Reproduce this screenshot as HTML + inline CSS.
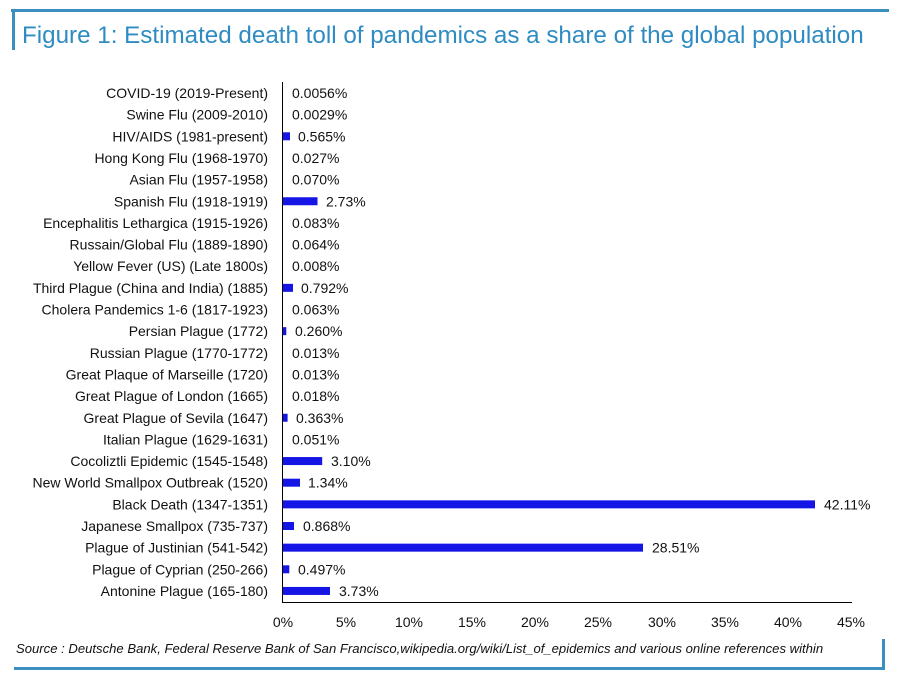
<!DOCTYPE html>
<html><head><meta charset="utf-8"><style>
body{margin:0;background:#fff;}
svg{display:block;font-family:"Liberation Sans",sans-serif;}
</style></head><body>
<svg width="901" height="681" viewBox="0 0 901 681" xmlns="http://www.w3.org/2000/svg">
<rect width="901" height="681" fill="#fff"/>
<line x1="11" y1="10.5" x2="889" y2="10.5" stroke="#3a8fc0" stroke-width="3"/>
<line x1="13.5" y1="9" x2="13.5" y2="50" stroke="#3a8fc0" stroke-width="3"/>
<text x="22" y="43" font-size="24.2" fill="#2f8cc2">Figure 1: Estimated death toll of pandemics as a share of the global population</text>
<line x1="14" y1="668.5" x2="885" y2="668.5" stroke="#3a8fc0" stroke-width="3"/>
<line x1="883.5" y1="639" x2="883.5" y2="670" stroke="#3a8fc0" stroke-width="3"/>
<text x="16" y="653" font-size="13.1" font-style="italic" fill="#111">Source : Deutsche Bank, Federal Reserve Bank of San Francisco,wikipedia.org/wiki/List_of_epidemics and various online references within</text>
<line x1="282.5" y1="82" x2="282.5" y2="603" stroke="#000" stroke-width="1"/>
<line x1="282" y1="602.5" x2="852" y2="602.5" stroke="#000" stroke-width="1"/>
<g font-size="14" fill="#111" text-anchor="middle">
<text x="283" y="627">0%</text><text x="346" y="627">5%</text><text x="409" y="627">10%</text><text x="472" y="627">15%</text><text x="535" y="627">20%</text><text x="598" y="627">25%</text><text x="662" y="627">30%</text><text x="725" y="627">35%</text><text x="788" y="627">40%</text><text x="851" y="627">45%</text>
</g>
<g font-size="14" fill="#111">
<text x="268" y="98" text-anchor="end">COVID-19 (2019-Present)</text><text x="292" y="98">0.0056%</text>
<text x="268" y="119.65" text-anchor="end">Swine Flu (2009-2010)</text><text x="292" y="119.65">0.0029%</text>
<rect x="283" y="132.3" width="7" height="8" fill="#1515e6"/><text x="268" y="141.3" text-anchor="end">HIV/AIDS (1981-present)</text><text x="298" y="141.3">0.565%</text>
<text x="268" y="162.95" text-anchor="end">Hong Kong Flu (1968-1970)</text><text x="292" y="162.95">0.027%</text>
<text x="268" y="184.6" text-anchor="end">Asian Flu (1957-1958)</text><text x="292" y="184.6">0.070%</text>
<rect x="283" y="197.25" width="34.5" height="8" fill="#1515e6"/><text x="268" y="206.25" text-anchor="end">Spanish Flu (1918-1919)</text><text x="326" y="206.25">2.73%</text>
<text x="268" y="227.9" text-anchor="end">Encephalitis Lethargica  (1915-1926)</text><text x="292" y="227.9">0.083%</text>
<text x="268" y="249.55" text-anchor="end">Russain/Global Flu  (1889-1890)</text><text x="292" y="249.55">0.064%</text>
<text x="268" y="271.2" text-anchor="end">Yellow Fever (US) (Late 1800s)</text><text x="292" y="271.2">0.008%</text>
<rect x="283" y="283.85" width="10" height="8" fill="#1515e6"/><text x="268" y="292.85" text-anchor="end">Third Plague (China and India) (1885)</text><text x="301" y="292.85">0.792%</text>
<text x="268" y="314.5" text-anchor="end">Cholera Pandemics 1-6 (1817-1923)</text><text x="292" y="314.5">0.063%</text>
<rect x="283" y="327.15" width="3.3" height="8" fill="#1515e6"/><text x="268" y="336.15" text-anchor="end">Persian Plague (1772)</text><text x="295" y="336.15">0.260%</text>
<text x="268" y="357.8" text-anchor="end">Russian Plague (1770-1772)</text><text x="292" y="357.8">0.013%</text>
<text x="268" y="379.45" text-anchor="end">Great Plaque of Marseille (1720)</text><text x="292" y="379.45">0.013%</text>
<text x="268" y="401.1" text-anchor="end">Great Plague of London (1665)</text><text x="292" y="401.1">0.018%</text>
<rect x="283" y="413.75" width="4.6" height="8" fill="#1515e6"/><text x="268" y="422.75" text-anchor="end">Great Plague of Sevila (1647)</text><text x="296" y="422.75">0.363%</text>
<text x="268" y="444.4" text-anchor="end">Italian Plague (1629-1631)</text><text x="292" y="444.4">0.051%</text>
<rect x="283" y="457.05" width="39.2" height="8" fill="#1515e6"/><text x="268" y="466.05" text-anchor="end">Cocoliztli Epidemic (1545-1548)</text><text x="331" y="466.05">3.10%</text>
<rect x="283" y="478.7" width="17" height="8" fill="#1515e6"/><text x="268" y="487.7" text-anchor="end">New World Smallpox Outbreak (1520)</text><text x="308" y="487.7">1.34%</text>
<rect x="283" y="500.35" width="532" height="8" fill="#1515e6"/><text x="268" y="509.35" text-anchor="end">Black Death (1347-1351)</text><text x="824" y="509.35">42.11%</text>
<rect x="283" y="522" width="11" height="8" fill="#1515e6"/><text x="268" y="531" text-anchor="end">Japanese Smallpox (735-737)</text><text x="303" y="531">0.868%</text>
<rect x="283" y="543.65" width="360" height="8" fill="#1515e6"/><text x="268" y="552.65" text-anchor="end">Plague of Justinian (541-542)</text><text x="652" y="552.65">28.51%</text>
<rect x="283" y="565.3" width="6.3" height="8" fill="#1515e6"/><text x="268" y="574.3" text-anchor="end">Plague of Cyprian (250-266)</text><text x="298" y="574.3">0.497%</text>
<rect x="283" y="586.95" width="47" height="8" fill="#1515e6"/><text x="268" y="595.95" text-anchor="end">Antonine Plague (165-180)</text><text x="339" y="595.95">3.73%</text>
</g>
</svg>
</body></html>
